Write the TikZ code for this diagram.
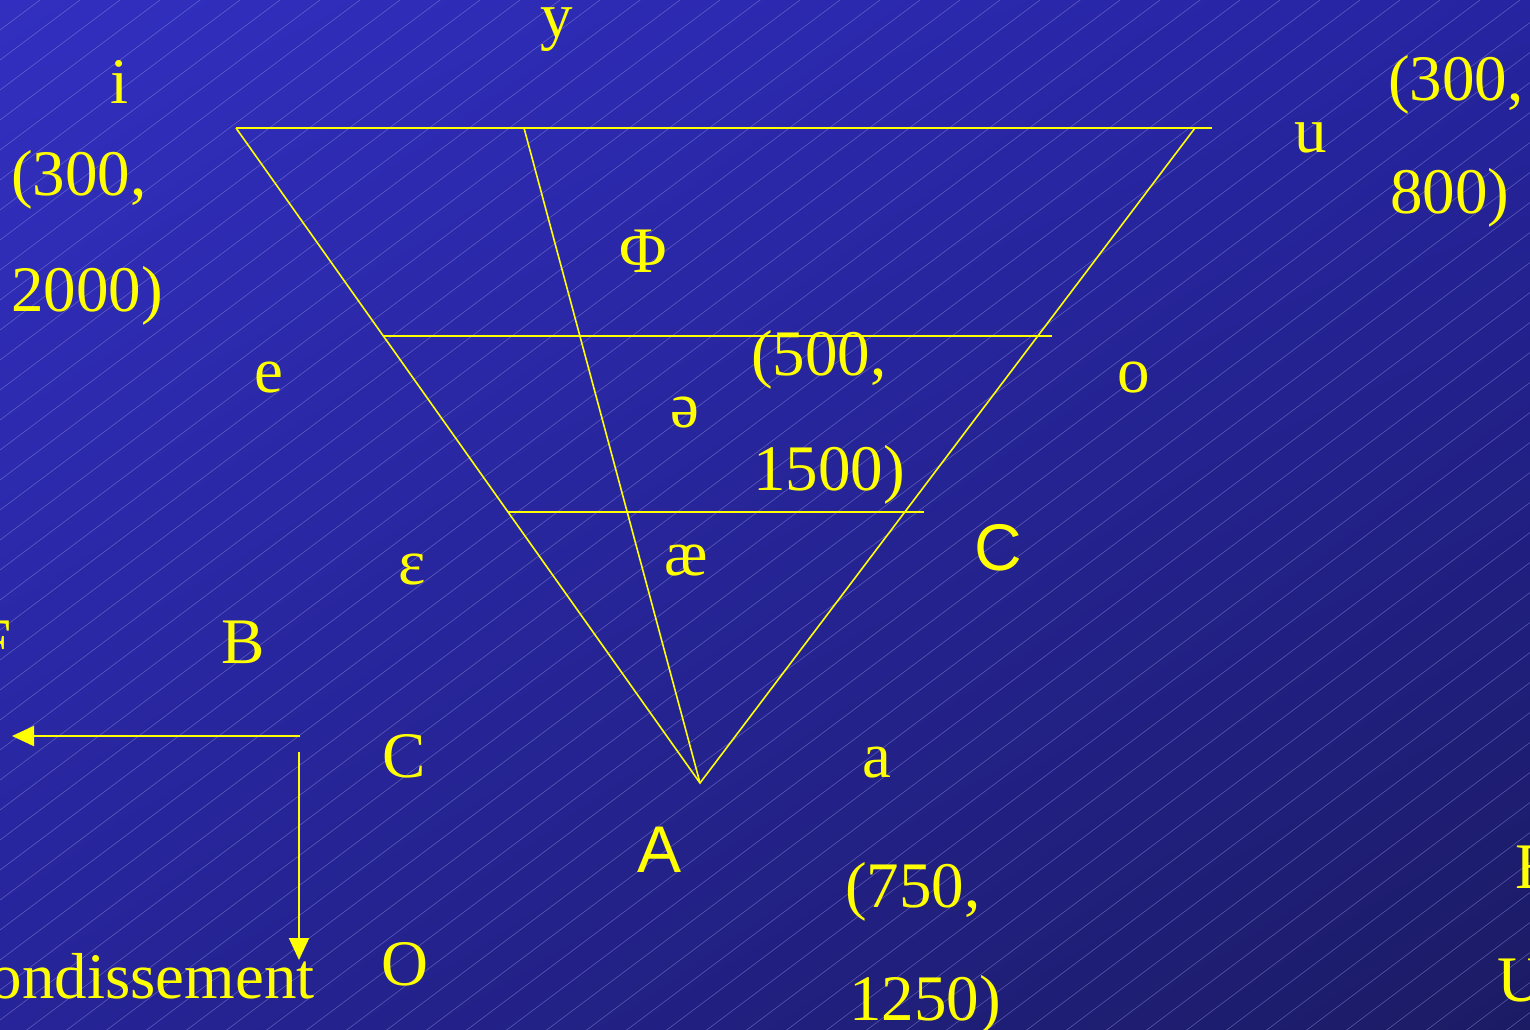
\documentclass[tikz,border=0pt]{standalone}
\usepackage{fontspec}
\setmainfont{Liberation Serif}
\newfontfamily\arialf{Liberation Sans}
\usetikzlibrary{arrows.meta,shadings}
\definecolor{yel}{RGB}{255,255,0}
\definecolor{bgTL}{RGB}{50,47,192}
\definecolor{bgTR}{RGB}{38,36,160}
\definecolor{bgBL}{RGB}{38,36,152}
\definecolor{bgBR}{RGB}{27,27,100}
\definecolor{hatch}{RGB}{150,150,225}
\tikzset{
  lbl/.style={text=yel, inner sep=0pt, font=\fontsize{65}{78}\selectfont, anchor=base},
  lblw/.style={lbl, anchor=base west},
  lble/.style={lbl, anchor=base east},
  sans/.style={font=\fontsize{66}{78}\selectfont\arialf},
  yline/.style={draw=yel, line width=1.6pt},
  yarrow/.style={draw=yel, line width=2pt, -{Triangle[length=22pt,width=20pt]}}
}
\begin{document}
\begin{tikzpicture}[x=1pt,y=-1pt]
\useasboundingbox (0,0) rectangle (1530,1029);
\clip (0,0) rectangle (1530,1029);
\shade[upper left=bgTL, upper right=bgTR, lower left=bgBL, lower right=bgBR] (0,0) rectangle (1530,1029);
\foreach \c in {0,30,...,2220}
  \draw[hatch, line width=0.5pt, opacity=0.55] (0,\c) -- (1530,\c-1147.5);
% triangle
\coordinate (TL) at (236,128);
\coordinate (TR) at (1212,128);
\coordinate (TRE) at (1195,128);
\coordinate (TM) at (524,128);
\coordinate (B) at (700,783);
\coordinate (H1L) at (383,336);
\coordinate (H1R) at (1052,336);
\coordinate (H2L) at (508,512);
\coordinate (H2R) at (924,512);
\draw[yline] (TL) -- (TR);
\draw[yline] (TL) -- (B) -- (TRE);
\draw[yline] (TM) -- (B);
\draw[yline] (H1L) -- (H1R);
\draw[yline] (H2L) -- (H2R);
% arrows
\coordinate (a0) at (300,736);
\coordinate (a1) at (12,736);
\coordinate (b0) at (299,752);
\coordinate (b1) at (299,960);
\draw[yarrow] (a0) -- (a1);
\draw[yarrow] (b0) -- (b1);
% labels
\node[lbl] (ly) at (557,37) {y};
\node[lbl] (li) at (120,103) {i};
\node[lblw] (l300a) at (11,195) {(300,};
\node[lblw] (l2000) at (11,311) {2000)};
\node[lblw] (l300b) at (1388,100) {(300,};
\node[lblw] (l800) at (1390,213) {800)};
\node[lbl] (lu) at (1311,152) {u};
\node[lbl] (lphi) at (643,272) {Φ};
\node[lbl] (le) at (269,392) {e};
\node[lblw] (l500) at (751,375) {(500,};
\node[lblw] (l1500) at (753,490) {1500)};
\node[lbl] (lschwa) at (685,427) {ə};
\node[lbl] (lo) at (1134,392) {o};
\node[lbl, sans] (lCs) at (998,570) {C};
\node[lbl] (leps) at (412,584) {ɛ};
\node[lbl] (lae) at (686,575) {æ};
\node[lbl] (lF) at (-6,663) {F};
\node[lbl] (lB) at (243,663) {B};
\node[lbl] (lC) at (404,777) {C};
\node[lbl] (la) at (877,777) {a};
\node[lbl, sans] (lA) at (660,872) {A};
\node[lblw] (l750) at (845,907) {(750,};
\node[lblw] (l1250) at (849,1020) {1250)};
\node[lbl] (lO) at (405,985) {O};
\node[lble] (larr) at (315,998) {ondissement};
\node[lbl] (lE) at (1535,888) {E};
\node[lbl] (lU) at (1521,1001) {U};
\end{tikzpicture}
\end{document}
